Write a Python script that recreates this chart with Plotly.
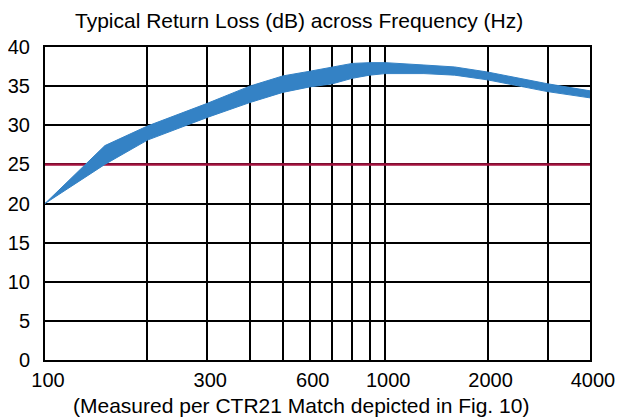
import plotly.graph_objects as go

# Data
freq = [100, 150, 200, 300, 400, 500, 600, 700, 800, 900, 1000, 1300, 1600, 2000, 3000, 4000]
upper_db = [20, 27.4, 29.9, 32.8, 35.0, 36.3, 36.9, 37.4, 37.9, 38.0, 38.0, 37.7, 37.45, 36.8, 35.3, 34.4]
lower_db = [20, 25.0, 28.1, 31.0, 32.9, 34.2, 34.9, 35.3, 36.0, 36.4, 36.6, 36.6, 36.4, 35.8, 34.3, 33.5]
threshold_db = 25
x_grid = [100, 200, 300, 400, 500, 600, 700, 800, 900, 1000, 2000, 3000, 4000]
x_labels = ["100", "", "300", "", "", "600", "", "", "", "1000", "2000", "", "4000"]
y_ticks = [0, 5, 10, 15, 20, 25, 30, 35, 40]

FONT = "Liberation Sans, Arial, sans-serif"

fig = go.Figure()

fig.add_trace(go.Scatter(
    x=[freq[0], freq[-1]], y=[threshold_db, threshold_db],
    mode="lines", line=dict(color="#A3113E", width=2.5),
    hoverinfo="skip", showlegend=False,
))

fig.add_trace(go.Scatter(
    x=freq + freq[::-1], y=upper_db + lower_db[::-1],
    mode="lines", fill="toself", fillcolor="#3482C5",
    line=dict(color="#3482C5", width=1),
    hoverinfo="skip", showlegend=False,
))

# page body has an 8px default margin: figure is sized/placed to compensate
fig.update_layout(
    width=615, height=409,
    margin=dict(l=37, r=33, t=39, b=57, autoexpand=False),
    paper_bgcolor="white", plot_bgcolor="white",
    font=dict(family=FONT, color="black", size=20),
    showlegend=False,
    annotations=[
        dict(text="Typical Return Loss (dB) across Frequency (Hz)",
             xref="paper", yref="paper", x=0.466, y=1.086,
             xanchor="center", yanchor="middle", showarrow=False,
             font=dict(family=FONT, size=21, color="black")),
        dict(text="(Measured per CTR21 Match depicted in Fig. 10)",
             xref="paper", yref="paper", x=0.469, y=-0.144,
             xanchor="center", yanchor="middle", showarrow=False,
             font=dict(family=FONT, size=21, color="black")),
    ],
)

fig.update_xaxes(
    type="log", range=[2, 3.60206],
    tickmode="array", tickvals=x_grid, ticktext=x_labels,
    showgrid=True, gridcolor="black", gridwidth=2,
    showline=True, linecolor="black", linewidth=2, mirror=True,
    ticks="", ticklabelstandoff=1, ticklabelshift=3,
    tickfont=dict(family=FONT, size=20, color="black"),
    zeroline=False, automargin=False,
)
fig.update_yaxes(
    range=[0, 40], tickmode="array", tickvals=y_ticks,
    showgrid=True, gridcolor="black", gridwidth=2,
    showline=True, linecolor="black", linewidth=2, mirror=True,
    ticks="", ticklabelstandoff=9,
    tickfont=dict(family=FONT, size=20, color="black"),
    zeroline=False, automargin=False,
)

fig.write_html("out.html")
